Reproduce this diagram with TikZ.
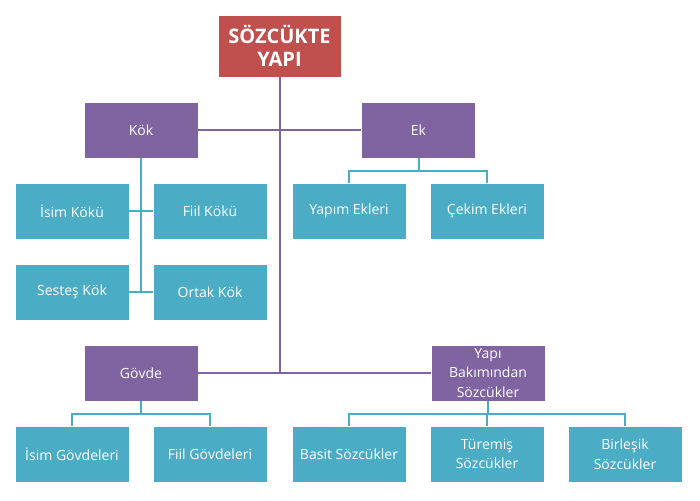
\documentclass[tikz,border=0pt]{standalone}
\usepackage{fontspec}
\setmainfont{Open Sans}
\usetikzlibrary{positioning}
\definecolor{rootred}{HTML}{C0504D}
\definecolor{mainpurple}{HTML}{8064A2}
\definecolor{leafteal}{HTML}{4BACC6}

\begin{document}
\begin{tikzpicture}[x=1pt,y=-1pt,
  box/.style={rectangle,draw=white,line width=0.6pt,text=white,align=center,
    minimum width=114pt,minimum height=56pt,inner sep=1pt,
    font=\fontsize{14}{19.5}\selectfont},
  rootbox/.style={box,fill=rootred,minimum width=123pt,minimum height=62pt,
    font=\fontsize{20}{23}\selectfont\bfseries},
  mainbox/.style={box,fill=mainpurple},
  leafbox/.style={box,fill=leafteal},
  trunk/.style={draw=mainpurple,line width=2pt},
  branch/.style={draw=leafteal,line width=2pt}]
\useasboundingbox (0,0) rectangle (700,500);
% ana kutu
\node[rootbox] (root) at (279.5,46) {SÖZCÜKTE\\YAPI};
% ikinci seviye
\node[mainbox] (kok) at (141,130) {Kök};
\node[mainbox] (ek) at (418.5,130) {Ek};
\node[mainbox] (govde) at (141,373) {Gövde};
\node[mainbox] (yapi) at (488,373) {Yapı\\Bakımından\\Sözcükler};
% yapraklar
\node[leafbox] (isimkok) at (72,211) {İsim Kökü};
\node[leafbox] (fiilkok) at (210,211) {Fiil Kökü};
\node[leafbox] (sestes) at (72,292) {Sesteş Kök};
\node[leafbox] (ortak) at (210,292) {Ortak Kök};
\node[leafbox] (yapim) at (349,211) {Yapım Ekleri};
\node[leafbox] (cekim) at (487,211) {Çekim Ekleri};
\node[leafbox] (isimgov) at (72,454) {İsim Gövdeleri};
\node[leafbox] (fiilgov) at (210,454) {Fiil Gövdeleri};
\node[leafbox] (basit) at (349,454) {Basit Sözcükler};
\node[leafbox] (turemis) at (487,454) {Türemiş\\Sözcükler};
\node[leafbox] (birlesik) at (625,454) {Birleşik\\Sözcükler};
% gövde çizgileri
\draw[trunk] (root.south) -- (root.south |- govde.east);
\draw[trunk] (kok.east) -- (ek.west);
\draw[trunk] (govde.east) -- (yapi.west);
% dallar
\draw[branch] (kok.south) -- (kok.south |- ortak.west);
\draw[branch] (isimkok.east) -- (fiilkok.west);
\draw[branch] (sestes.east) -- (ortak.west);
\foreach \c in {yapim,cekim}{\draw[branch] (ek.south) -- ++(0,13) -| (\c.north);}
\foreach \c in {isimgov,fiilgov}{\draw[branch] (govde.south) -- ++(0,13) -| (\c.north);}
\foreach \c in {basit,turemis,birlesik}{\draw[branch] (yapi.south) -- ++(0,13) -| (\c.north);}
\end{tikzpicture}
\end{document}
